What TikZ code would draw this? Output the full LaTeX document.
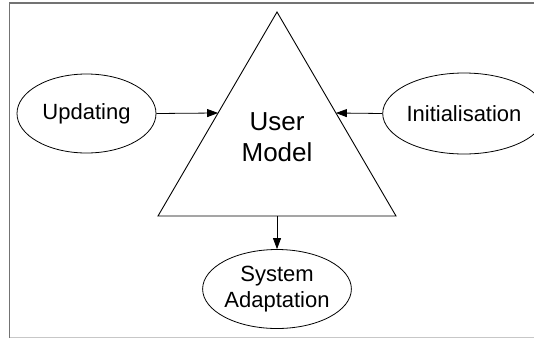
\documentclass[tikz,border=0pt]{standalone}
\usepackage{fontspec}
\setmainfont{Liberation Sans}
\usetikzlibrary{arrows.meta,calc,shapes.geometric}
\begin{document}
\begin{tikzpicture}[x=1pt,y=-1pt,
  oval/.style={draw,line width=0.8pt,ellipse,minimum width=#1,align=center,
    font=\fontsize{22}{26}\selectfont,inner sep=0pt},
  link/.style={line width=0.8pt,-{Triangle[length=11pt,width=8pt]}},
  frameline/.style={draw=black!55,line width=1.6pt}]
  \useasboundingbox (0,0) rectangle (534,338);
  \fill[white] (0,0) rectangle (534,338);
  % partial frame
  \draw[frameline] (9.5,338) -- (9.5,3) -- (534,3);
  \draw[black!22,line width=1.2pt] (9.5,337.2) -- (534,337.2);
  % triangle
  \coordinate (apex) at (277,12);
  \coordinate (bl) at (158,216);
  \coordinate (br) at (396,216);
  \draw[line width=0.9pt,line join=miter] (apex) -- (bl) -- (br) -- cycle;
  \node[font=\fontsize{26}{31}\selectfont,align=center] (um) at (277,137) {User\\Model};
  % arrow targets on the triangle
  \coordinate (tl) at ($(apex)!0.495!(bl)$);
  \coordinate (tr) at ($(apex)!0.495!(br)$);
  \coordinate (tb) at (277,216);
  % ellipses
  \node[oval=139pt,minimum height=79pt] (upd) at (86.5,113.5) {Updating};
  \node[oval=133pt,minimum height=81pt] (ini) at (464,113.5) {Initialisation};
  \node[oval=138pt,minimum height=79pt] (sys) at (277,289) {System\\Adaptation};
  % connectors
  \draw[link] (upd.east) -- (tl);
  \draw[link] (ini.west) -- (tr);
  \draw[link] (tb) -- (sys.north);
\end{tikzpicture}
\end{document}
